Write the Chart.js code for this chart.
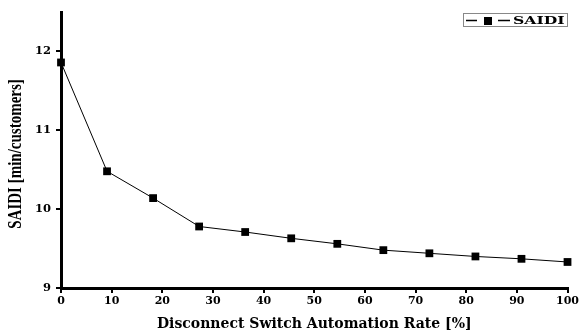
<!DOCTYPE html>
<html>
<head>
<meta charset="utf-8">
<script src="https://cdn.jsdelivr.net/npm/chart.js@4/dist/chart.umd.min.js"></script>
<style>
html,body{margin:0;padding:0;background:#fff;}
#wrap{width:581px;height:333px;}
</style>
</head>
<body>
<div id="wrap"><canvas id="c" width="581" height="333"></canvas></div>
<script>
const rates = [0, 9.09, 18.18, 27.27, 36.36, 45.45, 54.55, 63.64, 72.73, 81.82, 90.91, 100];
const saidi = [11.86, 10.48, 10.14, 9.78, 9.71, 9.63, 9.56, 9.48, 9.44, 9.40, 9.37, 9.33];
const xTicks = [0, 10, 20, 30, 40, 50, 60, 70, 80, 90, 100];
const yTicks = [9, 10, 11, 12];
const seriesName = 'SAIDI';
const xTitle = 'Disconnect Switch Automation Rate [%]';
const yTitle = 'SAIDI [min/customers]';

const FONT = '"Liberation Serif", "Times New Roman", serif';
const WIDE = '"DejaVu Serif", serif';

const textPlugin = {
  id: 'customText',
  afterDraw(chart) {
    const ctx = chart.ctx;
    // legend
    ctx.save();
    ctx.strokeStyle = '#888';
    ctx.lineWidth = 1;
    ctx.strokeRect(463.5, 13.5, 104, 13);
    ctx.strokeStyle = '#000';
    ctx.lineWidth = 1.3;
    ctx.beginPath();
    ctx.moveTo(466, 20.5); ctx.lineTo(477, 20.5);
    ctx.moveTo(498, 20.5); ctx.lineTo(510, 20.5);
    ctx.stroke();
    ctx.fillStyle = '#000';
    ctx.fillRect(484, 17, 8, 8);
    ctx.font = 'bold 11px ' + WIDE;
    ctx.textBaseline = 'middle';
    ctx.textAlign = 'left';
    ctx.translate(513, 21);
    ctx.scale(1.42, 1);
    ctx.fillText(seriesName, 0, 0);
    ctx.restore();
    // y axis title
    ctx.save();
    ctx.fillStyle = '#000';
    ctx.font = 'bold 15px ' + FONT;
    ctx.textAlign = 'center';
    ctx.textBaseline = 'middle';
    ctx.translate(15.5, 154);
    ctx.rotate(-Math.PI / 2);
    ctx.scale(1, 1.3);
    ctx.fillText(yTitle, 0, 0);
    ctx.restore();
  }
};

new Chart(document.getElementById('c'), {
  type: 'line',
  data: {
    datasets: [{
      label: seriesName,
      data: rates.map((r, i) => ({x: r, y: saidi[i]})),
      borderColor: '#000',
      backgroundColor: '#000',
      borderWidth: 1,
      pointStyle: 'rect',
      pointRadius: 5.5,
      pointHoverRadius: 5.5,
      pointBorderWidth: 0,
      tension: 0,
      clip: false
    }]
  },
  options: {
    responsive: false,
    animation: false,
    events: [],
    layout: {padding: {top: 12, right: 13, left: 0, bottom: 0}},
    plugins: {legend: {display: false}, tooltip: {enabled: false}},
    scales: {
      x: {
        type: 'linear',
        min: 0, max: 100,
        afterFit(s) { s.height = 45; },
        afterBuildTicks(s) { s.ticks = xTicks.map(v => ({value: v})); },
        border: {display: true, color: '#000', width: 3},
        grid: {display: true, drawOnChartArea: false, drawTicks: true, tickLength: 5, color: '#000', lineWidth: 2},
        ticks: {color: '#000', padding: 2, maxRotation: 0, font: {family: WIDE, weight: 'bold', size: 11}},
        title: {display: true, text: xTitle, color: '#000', padding: {top: 4, bottom: 0}, font: {family: WIDE, weight: 'bold', size: 14}}
      },
      y: {
        type: 'linear',
        min: 9, max: 12.5,
        afterFit(s) { s.width = 61; },
        afterBuildTicks(s) { s.ticks = yTicks.map(v => ({value: v})); },
        border: {display: true, color: '#000', width: 3},
        grid: {display: true, drawOnChartArea: false, drawTicks: true, tickLength: 5, color: '#000', lineWidth: 2},
        ticks: {color: '#000', padding: 5, font: {family: WIDE, weight: 'bold', size: 11.5}},
        title: {display: false}
      }
    }
  },
  plugins: [textPlugin]
});
</script>
</body>
</html>
